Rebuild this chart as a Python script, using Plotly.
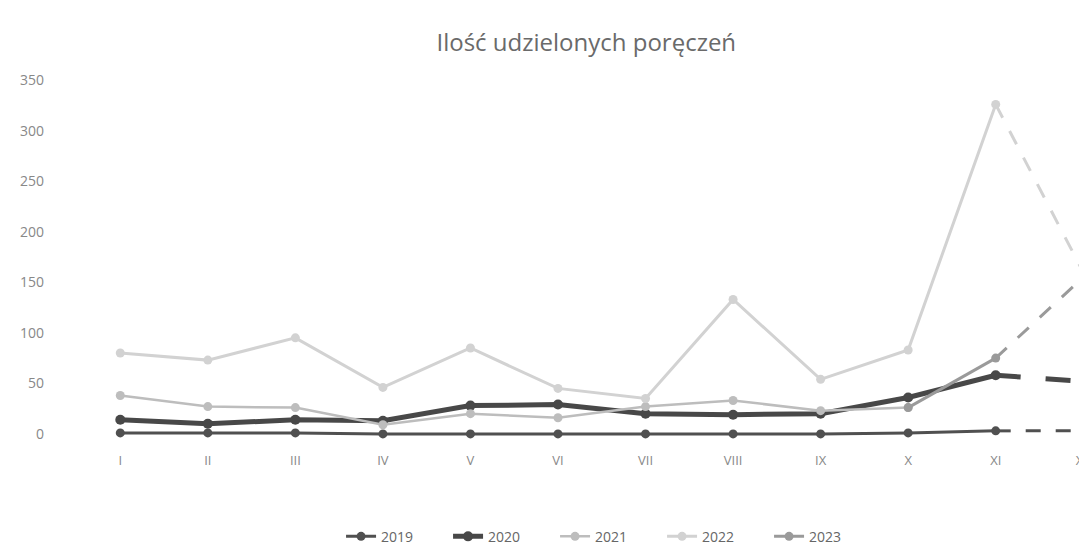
import plotly.graph_objects as go

months = ["I", "II", "III", "IV", "V", "VI", "VII", "VIII", "IX", "X", "XI", "XII"]
y2019 = [1, 1, 1, 0, 0, 0, 0, 0, 0, 1, 3, 3]
y2020 = [14, 10, 14, 13, 28, 29, 20, 19, 20, 36, 58, 52]
y2021 = [38, 27, 26, 9, 20, 16, 27, 33, 23, 26, None, None]
y2022 = [80, 73, 95, 46, 85, 45, 35, 133, 54, 83, 326, 160]
y2023 = [None, None, None, None, None, None, None, None, None, 26, 75, 155]

series = [
    ("2019", y2019, "#505050", 3.0, 9),
    ("2020", y2020, "#484848", 5.0, 10),
    ("2021", y2021, "#bdbdbd", 2.5, 9),
    ("2022", y2022, "#d2d2d2", 3.0, 9),
    ("2023", y2023, "#9a9a9a", 3.0, 9),
]

fig = go.Figure()
for name, ys, col, w, ms in series:
    fig.add_trace(go.Scatter(
        x=months[:11], y=ys[:11], name=name, mode="lines+markers",
        line=dict(color=col, width=w), marker=dict(color=col, size=ms),
        cliponaxis=False, connectgaps=False,
    ))
    fig.add_trace(go.Scatter(
        x=months[10:], y=ys[10:], name=name, mode="lines",
        line=dict(color=col, width=w, dash="longdash"),
        showlegend=False, cliponaxis=False, hoverinfo="skip",
    ))
    fig.add_trace(go.Scatter(
        x=months[11:], y=ys[11:], name=name, mode="markers",
        marker=dict(color=col, size=ms - 2),
        showlegend=False, cliponaxis=False, hoverinfo="skip",
    ))

fig.update_layout(
    width=1087, height=544,
    paper_bgcolor="white", plot_bgcolor="white",
    margin=dict(l=51, r=3, t=60, b=108, autoexpand=False),
    font=dict(family="Open Sans, Lato, sans-serif", color="#777777", size=13),
    title=dict(text="Ilość udzielonych poręczeń", x=0.532, xref="container", xanchor="center",
               y=0.936, yref="container", yanchor="middle",
               font=dict(size=24, color="#6a6a6a", family="Open Sans, sans-serif")),
    showlegend=True,
    legend=dict(orientation="h", x=0.532, xanchor="center", y=0.028, yref="container",
                yanchor="middle", font=dict(size=14, color="#666666"),
                traceorder="normal", entrywidth=62, entrywidthmode="pixels"),
    xaxis=dict(type="category", categoryorder="array", categoryarray=months,
               range=[-0.7, 11.1], showgrid=False, zeroline=False, showline=False,
               ticks="outside", ticklen=4, tickcolor="rgba(0,0,0,0)",
               tickfont=dict(size=13, color="#888888")),
    yaxis=dict(range=[-10, 362], tickvals=[0, 50, 100, 150, 200, 250, 300, 350],
               showgrid=False, zeroline=False, showline=False,
               tickfont=dict(size=14, color="#888888"), ticklabelstandoff=14),
)

fig.write_html("out.html")
